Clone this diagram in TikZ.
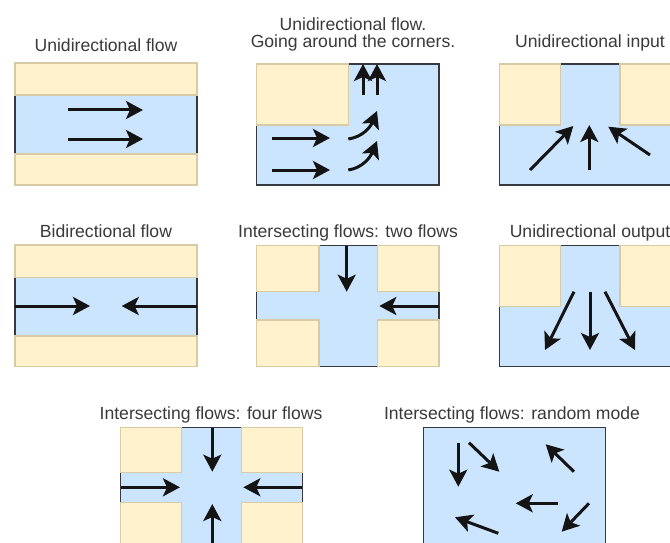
\documentclass[tikz,border=0pt]{standalone}
\usepackage{fontspec}
\setmainfont{Liberation Sans}
\usetikzlibrary{arrows.meta}
\definecolor{yfill}{HTML}{FFF2CC}
\definecolor{ydraw}{HTML}{D6CBA4}
\definecolor{bfill}{HTML}{CCE5FF}
\definecolor{bdraw}{HTML}{36393D}
\definecolor{txt}{HTML}{3A3A3A}
\begin{document}
\begin{tikzpicture}[x=1pt,y=-1pt,
  road/.style={fill=bfill, draw=bdraw, line width=1.2pt},
  block/.style={fill=yfill, draw=ydraw, line width=1.4pt},
  flow/.style={line width=3pt, draw=black!92, -{Stealth[length=17pt,width=18pt,inset=4pt]}},
  title/.style={font=\fontsize{17.6}{17.6}\selectfont, text=txt, anchor=base, inner sep=0pt}]
\clip (0,0) rectangle (670,543);
\fill[white] (0,0) rectangle (670,543);

% ---------- Panel 1: Unidirectional flow
\node[title] (t1) at (106,51.7) {Unidirectional flow};
\draw[road] (15,95) rectangle (197,154);
\draw[block] (15,63) rectangle (197,95);
\draw[block] (15,154) rectangle (197,185);
\coordinate (p1a) at (68,110); \coordinate (p1b) at (143,110);
\coordinate (p1c) at (68,139); \coordinate (p1d) at (143,139);
\draw[flow] (p1a) -- (p1b);
\draw[flow] (p1c) -- (p1d);

% ---------- Panel 2: around the corners
\node[title] (t2a) at (353,30.7) {Unidirectional flow.};
\node[title] (t2b) at (353,47.3) {Going around the corners.};
\draw[road] (256.7,64) rectangle (439,185);
\draw[block] (256.7,64) rectangle (348.3,125);
\coordinate (p2a) at (271.7,138); \coordinate (p2b) at (330,138);
\coordinate (p2c) at (271.7,170); \coordinate (p2d) at (330,170);
\draw[flow] (p2a) -- (p2b);
\draw[flow] (p2c) -- (p2d);
\coordinate (p2e) at (348.3,139); \coordinate (p2f) at (377,111);
\coordinate (p2g) at (348.3,170); \coordinate (p2h) at (377,141);
\draw[flow] (p2e) .. controls (362,137) and (370,128) .. (p2f);
\draw[flow] (p2g) .. controls (362,168) and (370,158) .. (p2h);
\coordinate (p2i) at (363,95); \coordinate (p2j) at (363,64);
\coordinate (p2k) at (377,95); \coordinate (p2l) at (377,64);
\draw[flow] (p2i) -- (p2j);
\draw[flow] (p2k) -- (p2l);

% ---------- Panel 3: Unidirectional input
\node[title] (t3) at (590,48) {Unidirectional input};
\draw[road] (499.3,64) rectangle (681,185);
\draw[block] (499.3,64) rectangle (560.7,125);
\draw[block] (620,64) rectangle (681,125);
\coordinate (p3a) at (589.3,170); \coordinate (p3b) at (589.3,125);
\coordinate (p3c) at (530,170);   \coordinate (p3d) at (573.3,126);
\coordinate (p3e) at (650,155);   \coordinate (p3f) at (608.3,126.7);
\draw[flow] (p3a) -- (p3b);
\draw[flow] (p3c) -- (p3d);
\draw[flow] (p3e) -- (p3f);

% ---------- Panel 4: Bidirectional flow
\node[title] (t4) at (106,237.3) {Bidirectional flow};
\draw[road] (15,277.3) rectangle (197,336);
\draw[block] (15,245) rectangle (197,277.3);
\draw[block] (15,336) rectangle (197,366.7);
\coordinate (p4a) at (15,306);  \coordinate (p4b) at (90,306);
\coordinate (p4c) at (197,306); \coordinate (p4d) at (121.7,306);
\draw[flow] (p4a) -- (p4b);
\draw[flow] (p4c) -- (p4d);

% ---------- Panel 5: two flows
\node[title] (t5) at (348,237.3) {Intersecting flows: two flows};
\draw[road] (256.7,245.7) rectangle (439,366.7);
\draw[block] (256.7,245.7) rectangle (319,291.7);
\draw[block] (377.7,245.7) rectangle (439,291.7);
\draw[block] (256.7,320) rectangle (319,366.7);
\draw[block] (377.7,320) rectangle (439,366.7);
\coordinate (p5a) at (346.7,245.7); \coordinate (p5b) at (346.7,291.7);
\coordinate (p5c) at (439,306);     \coordinate (p5d) at (379.3,306);
\draw[flow] (p5a) -- (p5b);
\draw[flow] (p5c) -- (p5d);

% ---------- Panel 6: Unidirectional output
\node[title] (t6) at (590,237.3) {Unidirectional output};
\draw[road] (499.3,245.7) rectangle (681,366.7);
\draw[block] (499.3,245.7) rectangle (560.7,306.7);
\draw[block] (620,245.7) rectangle (681,306.7);
\coordinate (p6a) at (590,291.7); \coordinate (p6b) at (590,350);
\coordinate (p6c) at (574,291.7); \coordinate (p6d) at (545,350);
\coordinate (p6e) at (605,291.7); \coordinate (p6f) at (635,350);
\draw[flow] (p6a) -- (p6b);
\draw[flow] (p6c) -- (p6d);
\draw[flow] (p6e) -- (p6f);

% ---------- Panel 7: four flows
\node[title] (t7) at (211,419) {Intersecting flows: four flows};
\draw[road] (120.7,427.7) rectangle (302.3,548.7);
\draw[block] (120.7,427.7) rectangle (181.7,472.7);
\draw[block] (241.7,427.7) rectangle (302.3,472.7);
\draw[block] (120.7,502.3) rectangle (181.7,548.7);
\draw[block] (241.7,502.3) rectangle (302.3,548.7);
\coordinate (p7a) at (212.3,427.7); \coordinate (p7b) at (212.3,471.7);
\coordinate (p7c) at (120.7,487.3); \coordinate (p7d) at (180,487.3);
\coordinate (p7e) at (302.3,487.3); \coordinate (p7f) at (243.3,487.3);
\coordinate (p7g) at (212.3,548.7); \coordinate (p7h) at (212.3,504);
\draw[flow] (p7a) -- (p7b);
\draw[flow] (p7c) -- (p7d);
\draw[flow] (p7e) -- (p7f);
\draw[flow] (p7g) -- (p7h);

% ---------- Panel 8: random mode
\node[title] (t8) at (512,419) {Intersecting flows: random mode};
\draw[road] (423.3,427.7) rectangle (605.7,548.7);
\coordinate (p8a) at (458.3,442.7); \coordinate (p8b) at (458.3,486.7);
\coordinate (p8c) at (469,442.7);   \coordinate (p8d) at (499.3,471.7);
\coordinate (p8e) at (574,471.7);   \coordinate (p8f) at (545.7,444.3);
\coordinate (p8g) at (558.3,503.3); \coordinate (p8h) at (515.7,503.3);
\coordinate (p8i) at (589,503.3);   \coordinate (p8j) at (561.7,531.7);
\coordinate (p8k) at (498.3,533.3); \coordinate (p8l) at (455,517.3);
\draw[flow] (p8a) -- (p8b);
\draw[flow] (p8c) -- (p8d);
\draw[flow] (p8e) -- (p8f);
\draw[flow] (p8g) -- (p8h);
\draw[flow] (p8i) -- (p8j);
\draw[flow] (p8k) -- (p8l);
\end{tikzpicture}
\end{document}
